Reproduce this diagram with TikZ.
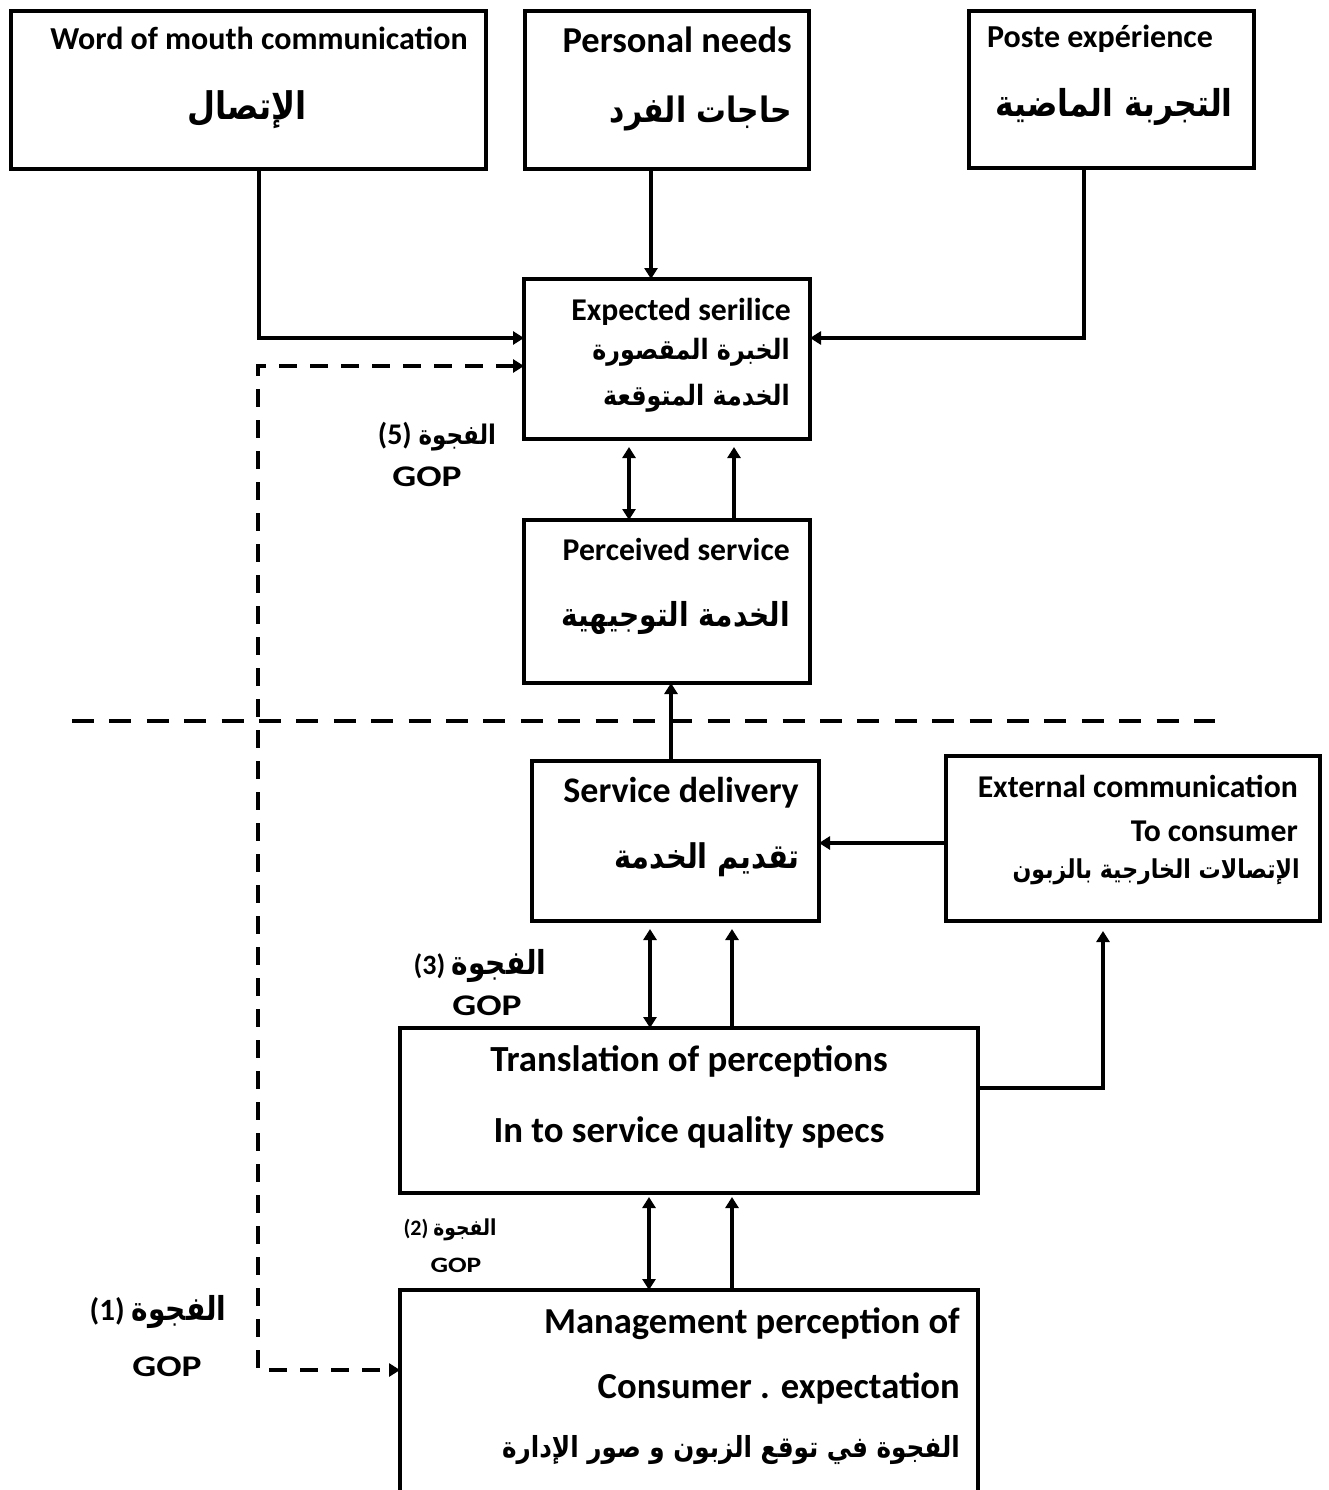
\documentclass[tikz,border=0pt]{standalone}
\usepackage{fontspec}
\setmainfont{Carlito}
\newfontfamily\arfont[Script=Arabic,FakeStretch=0.85]{DejaVu Sans}
\newfontfamily\gopfont[FakeStretch=1.25]{Carlito}
\TeXXeTstate=1
\usetikzlibrary{arrows.meta}
\newcommand\artext[1]{{\arfont\bfseries\beginR #1\endR}}
\newcommand\arsized[2]{{\fontsize{#1}{#1}\selectfont\arfont\bfseries\beginR #2\endR}}
\tikzset{
  box/.style={draw, line width=4.5pt, inner sep=0pt, outer sep=0pt, anchor=north west},
  conn/.style={line width=3.5pt, -{Triangle[length=11pt,width=13pt]}},
  conntwo/.style={line width=3.5pt, {Triangle[length=11pt,width=13pt]}-{Triangle[length=11pt,width=13pt]}},
  dashconn/.style={line width=4.5pt, dash pattern=on 18pt off 13pt, {Triangle[length=11pt,width=13pt]}-{Triangle[length=11pt,width=13pt]}},
  gapline/.style={line width=4.5pt, dash pattern=on 22pt off 15.4pt},
  en/.style={inner sep=0pt, font=\fontsize{#1}{#1}\selectfont\bfseries},
  ar/.style={inner sep=0pt, font=\fontsize{#1}{#1}\selectfont},
  gop/.style={inner sep=0pt, anchor=base, font=\fontsize{#1}{#1}\selectfont\gopfont\bfseries},
}
\begin{document}
\begin{tikzpicture}[x=1pt,y=-1pt]
\fill[white] (0,0) rectangle (1328,1490);
\useasboundingbox (0,0) rectangle (1328,1490);

% boxes
\node[box, minimum width=475pt, minimum height=158pt] (wom) at (11,11) {};
\node[box, minimum width=284pt, minimum height=158pt] (pn) at (525,11) {};
\node[box, minimum width=285pt, minimum height=157pt] (pe) at (969,11) {};
\node[box, minimum width=286pt, minimum height=160pt] (es) at (524,279) {};
\node[box, minimum width=286pt, minimum height=163pt] (ps) at (524,520) {};
\node[box, minimum width=287pt, minimum height=160pt] (sd) at (532,761) {};
\node[box, minimum width=374pt, minimum height=165pt] (ec) at (946,756) {};
\node[box, minimum width=578pt, minimum height=165pt] (tp) at (400,1028) {};
\node[box, minimum width=578pt, minimum height=215pt] (mp) at (400,1290) {};

% texts
\node[en=32, anchor=base] (womt) at (259,50) {Word of mouth communication};
\node[ar=38] (woma) at (247,110) {\artext{الإتصال}};
\node[en=36.5, anchor=base east] (pnt) at (792,53) {Personal needs};
\node[ar=35, anchor=east] (pna) at (792,113) {\artext{حاجات الفرد}};
\node[en=32, anchor=base west] (pet) at (987,48) {Poste expérience};
\node[ar=37, anchor=east] (pea) at (1233,107) {\artext{التجربة الماضية}};
\node[en=31.7, anchor=base east] (est) at (791,320) {Expected serilice};
\node[ar=28, anchor=east] (esa) at (790,352) {\artext{الخبرة المقصورة}};
\node[ar=28, anchor=east] (esb) at (790,398) {\artext{الخدمة المتوقعة}};
\node[en=31.7, anchor=base east] (pst) at (790,560) {Perceived service};
\node[ar=33, anchor=east] (psa) at (790,618) {\artext{الخدمة التوجيهية}};
\node[en=36, anchor=base east] (sdt) at (799,802) {Service delivery};
\node[ar=34, anchor=east] (sda) at (800,860) {\artext{تقديم الخدمة}};
\node[en=31.7, anchor=base east] (ect) at (1298,797) {External communication};
\node[en=31.7, anchor=base east] (ecu) at (1298,841) {To consumer};
\node[ar=26, anchor=east] (eca) at (1300,872) {\artext{الإتصالات الخارجية بالزبون}};
\node[en=36.8, anchor=base] (tpt) at (689,1071) {Translation of perceptions};
\node[en=36.8, anchor=base] (tpu) at (689,1142) {In to service quality specs};
\node[en=36.6, anchor=base east] (mpt) at (960,1333) {Management perception of};
\node[en=36.6, anchor=base east] (mpu) at (960,1398) {Consumer . expectation};
\node[ar=29, anchor=east] (mpa) at (960,1450) {\artext{الفجوة في توقع الزبون و صور الإدارة}};

% gap labels
\node[en=30] (g5) at (437,437) {(5) \arsized{27}{الفجوة}};
\node[gop=30] (g5b) at (427,486) {GOP};
\node[en=28] (g3) at (480,966) {(3) \arsized{33}{الفجوة}};
\node[gop=30] (g3b) at (487,1015) {GOP};
\node[en=22] (g2) at (450,1230) {(2) \arsized{22}{الفجوة}};
\node[gop=22] (g2b) at (456,1272) {GOP};
\node[en=31] (g1) at (158,1312) {(1) \arsized{33}{الفجوة}};
\node[gop=30] (g1b) at (167,1376) {GOP};

% coordinates
\coordinate (wbend) at (259,338);
\coordinate (pnx) at (651,0);
\coordinate (pebend) at (1084,338);
\coordinate (c1) at (629,0);
\coordinate (c2) at (734,0);
\coordinate (c3) at (671,0);
\coordinate (c4) at (0,843);
\coordinate (c5) at (650,0);
\coordinate (c6) at (732,0);
\coordinate (ecb) at (1103,1088);
\coordinate (c7) at (649,0);
\coordinate (c8) at (732,0);
\coordinate (d1) at (258,366);
\coordinate (d2) at (258,1370);
\coordinate (h1) at (72,721);
\coordinate (h2) at (1215,721);

% connectors
\draw[conn] (wom.south -| wbend) -- (wbend) -- (es.west |- wbend);
\draw[conn] (pn.south -| pnx) -- (es.north -| pnx);
\draw[conn] (pe.south -| pebend) -- (pebend) -- (es.east |- pebend);
\draw[conntwo, shorten <=8pt] (es.south -| c1) -- (ps.north -| c1);
\draw[conn, shorten >=8pt] (ps.north -| c2) -- (es.south -| c2);
\draw[conn] (sd.north -| c3) -- (ps.south -| c3);
\draw[conn] (ec.west |- c4) -- (sd.east |- c4);
\draw[conntwo, shorten <=8pt] (sd.south -| c5) -- (tp.north -| c5);
\draw[conn, shorten >=8pt] (tp.north -| c6) -- (sd.south -| c6);
\draw[conn, shorten >=10pt] (tp.east |- ecb) -- (ecb) -- (ec.south -| ecb);
\draw[conntwo, shorten <=4pt] (tp.south -| c7) -- (mp.north -| c7);
\draw[conn, shorten >=4pt] (mp.north -| c8) -- (tp.south -| c8);
\draw[dashconn] (es.west |- d1) -- (d1) -- (d2) -- (mp.west |- d2);
\draw[gapline] (h1) -- (h2);
\end{tikzpicture}
\end{document}
